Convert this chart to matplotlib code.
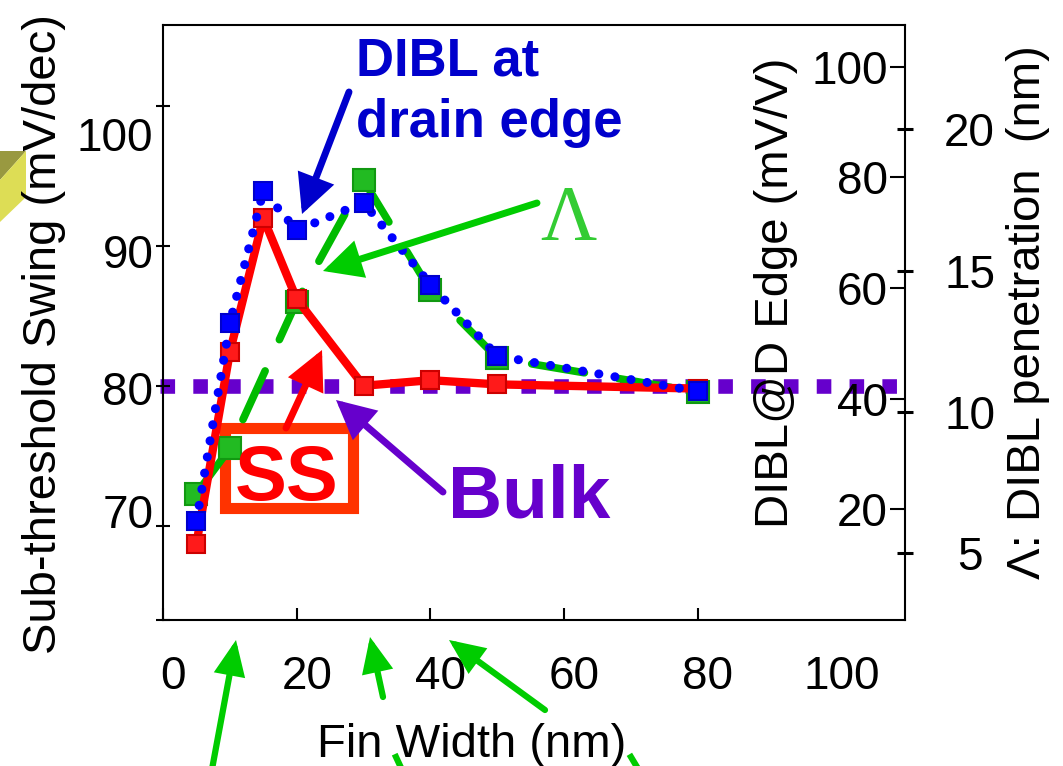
import matplotlib
matplotlib.use("Agg")
import matplotlib.pyplot as plt
import matplotlib.transforms as mtransforms
from matplotlib.patches import Rectangle, Polygon, FancyArrowPatch
from matplotlib.lines import Line2D

W, H = 1063, 766

# values
fin_width = [5, 10, 15, 20, 30, 40, 50, 80]
ss = [68.7, 82.4, 92.0, 86.2, 80.0, 80.4, 80.1, 79.8]
dibl_edge = [17.8, 53.6, 77.5, 70.4, 75.4, 60.6, 47.7, 41.3]
lam_width = [5, 10, 20, 30, 40, 50, 80]
lam = [7.1, 8.7, 13.9, 18.2, 14.3, 11.9, 10.7]
bulk_ss = 80

x_ticks = [0, 20, 40, 60, 80, 100]
ss_ticks = [70, 80, 90, 100]
dibl_ticks = [20, 40, 60, 80, 100]
lam_ticks = [5, 10, 15, 20]

plt.rcParams["font.family"] = ["Liberation Sans", "DejaVu Sans"]


def fp(x, y):
    # slide pixel (origin top-left) -> figure fraction
    return x / W, 1 - y / H


fig = plt.figure(figsize=(W / 100, H / 100), dpi=100)
rect = [163 / W, 1 - 620 / H, 742 / W, 595 / H]

# axes stacking: bulk line < Lambda < SS < DIBL
ax = fig.add_axes(rect, zorder=2)
ax.patch.set_visible(False)
ax_bulk = fig.add_axes(rect, zorder=0, sharex=ax, sharey=ax)
ax_bulk.set_axis_off()
ax_lam = ax.twinx()
ax_lam.set_zorder(1)
ax_dibl = ax.twinx()
ax_dibl.set_zorder(3)

for s in ax.spines.values():
    s.set_linewidth(1.5)
for a in (ax_lam, ax_dibl):
    a.patch.set_visible(False)
    for s in a.spines.values():
        s.set_visible(False)

# series
ax_bulk.axhline(bulk_ss, xmin=-0.004, xmax=0.995, color="#6600cc", lw=10.5,
                ls=(0, (1.0, 1.25)), dash_capstyle="butt", clip_on=False)
ax_lam.plot(lam_width, lam, color="#00bb00", lw=5.5, ls=(0, (7.0, 4.5)),
            dash_capstyle="round", marker="s", ms=16, mfc="#22bb22",
            mec="#119911", mew=1.5)
ax.plot(fin_width, ss, color="#ff0000", lw=6, marker="s", ms=13,
        mfc="#ff1a1a", mec="#cc0000", mew=1.5)
ax_dibl.plot(fin_width, dibl_edge, color="#0000ff", lw=6.5, ls=(0, (0.01, 1.8)),
             dash_capstyle="round", marker="s", ms=13, mfc="#0000ff",
             mec="#0000cc", mew=1.5)

# limits
ax.set_xlim(0, 111)
ax.set_ylim(63.25, 105.8)
ax_dibl.set_ylim(0, 107.5)
ax_lam.set_ylim(2.62, 23.7)

# x axis
ax.set_xticks(x_ticks, [str(v) for v in x_ticks])
ax.tick_params(axis="x", direction="in", length=9, width=1.5, labelsize=33, pad=25)
ax.xaxis.get_major_ticks()[-1].tick1line.set_visible(False)
shift = mtransforms.ScaledTranslation(10 / 100, 0, fig.dpi_scale_trans)
for lab in ax.get_xticklabels():
    lab.set_transform(lab.get_transform() + shift)

# left axis (SS)
ax.set_yticks([63.25] + ss_ticks, [""] + [str(v) for v in ss_ticks])
ax.tick_params(axis="y", direction="inout", length=10, width=1.5, labelsize=33, pad=2)
ss_label_dy = [0, 15, -2, -5, -28]  # px, slide labels sit a bit off their ticks
for lab, dy in zip(ax.get_yticklabels(), ss_label_dy):
    lab.set_transform(lab.get_transform()
                      + mtransforms.ScaledTranslation(0, dy / 100, fig.dpi_scale_trans))

# inner right axis (DIBL), labels inside the frame
ax_dibl.set_yticks(dibl_ticks, [str(v) for v in dibl_ticks])
ax_dibl.tick_params(axis="y", direction="in", length=11, width=1.5, labelsize=33, pad=-12.5)
for lab in ax_dibl.get_yticklabels():
    lab.set_horizontalalignment("right")

# outer right axis (Lambda)
ax_lam.set_yticks(lam_ticks, [str(v) for v in lam_ticks])
ax_lam.tick_params(axis="y", direction="inout", length=12, width=2.2, labelsize=33, pad=40.5)
for lab in ax_lam.get_yticklabels():
    lab.set_horizontalalignment("center")

# axis titles
fig.text(*fp(44, 334), "Sub-threshold Swing (mV/dec)", rotation=90, fontsize=34,
         ha="center", va="center")
fig.text(*fp(472, 757), "Fin Width (nm)", fontsize=34, ha="center", va="baseline")
fig.text(*fp(776, 293), "DIBL@D Edge (mV/V)", rotation=90, fontsize=34,
         ha="center", va="center")
fig.text(*fp(1028, 312), "Λ: DIBL penetration  (nm)", rotation=90, fontsize=34,
         ha="center", va="center")

# decoration at the left edge of the slide
fig.add_artist(Polygon([fp(0, 151), fp(26, 151), fp(0, 180)], closed=True,
                       transform=fig.transFigure, color="#999940", lw=0, zorder=0.5))
fig.add_artist(Polygon([fp(0, 180), fp(26, 151), fp(26, 197), fp(0, 222)], closed=True,
                       transform=fig.transFigure, color="#dddd55", lw=0, zorder=0.5))

# SS box
x0, y0 = fp(225, 508)
x1, y1 = fp(353, 428)
ax_bulk.add_patch(Rectangle((x0, y0), x1 - x0, y1 - y0, transform=fig.transFigure,
                            fill=False, ec="#ff3300", lw=8, joinstyle="miter",
                            clip_on=False))

# callout texts
fig.text(*fp(356, 137), "DIBL at\ndrain edge", color="#0000cc", fontsize=38,
         fontweight="bold", ha="left", va="baseline", linespacing=1.3)
fig.text(*fp(540, 239), "Λ", color="#33cc33", fontsize=56, family="Liberation Serif",
         ha="left", va="baseline")
fig.text(*fp(287, 500), "SS", color="#ff0000", fontsize=56, fontweight="bold",
         ha="center", va="baseline")
fig.text(*fp(448, 518), "Bulk", color="#6600cc", fontsize=54, fontweight="bold",
         ha="left", va="baseline")


def arrow(tail, tip, color, lw=5, hl=2.0, hw=1.0):
    fig.add_artist(FancyArrowPatch(fp(*tail), fp(*tip), transform=fig.transFigure,
                                   arrowstyle=f"-|>,head_length={hl},head_width={hw}",
                                   mutation_scale=10, lw=lw, color=color,
                                   shrinkA=0, shrinkB=0, joinstyle="miter", zorder=10))


arrow((349, 92), (302, 214), "#0000cc")
arrow((537, 203), (323, 271), "#00cc00")
arrow((286, 428), (322, 350), "#ff0000")
arrow((443, 492), (336, 400), "#6600cc")
arrow((210, 780), (236, 640), "#00cc00", lw=4.5, hl=1.8, hw=0.8)
arrow((383, 697), (370, 637), "#00cc00", lw=4.5, hl=1.8, hw=0.8)
arrow((545, 710), (449, 640), "#00cc00", lw=4.5, hl=1.8, hw=0.8)
for (xa, ya), (xb, yb) in [((396, 757), (403, 772)), ((631, 757), (640, 772))]:
    fig.add_artist(Line2D(*zip(fp(xa, ya), fp(xb, yb)), transform=fig.transFigure,
                          color="#00cc00", lw=4.5))

fig.savefig("out.png", dpi=100)
